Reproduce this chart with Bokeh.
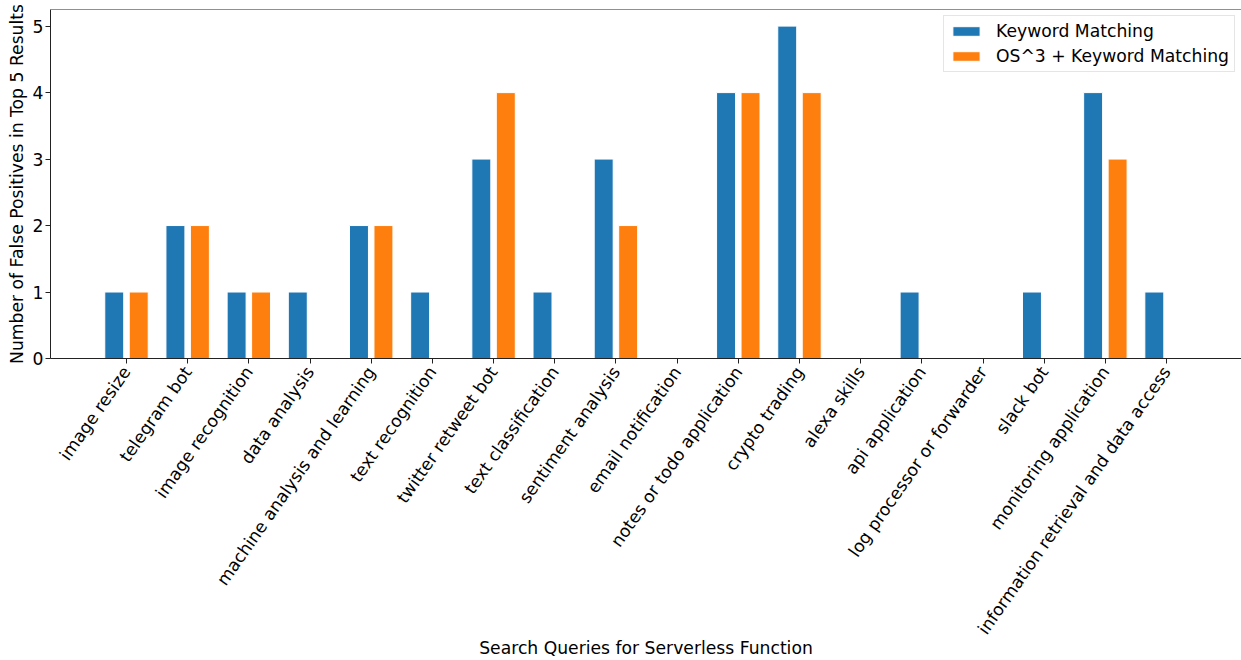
import math
from bokeh.plotting import figure
from bokeh.models import ColumnDataSource, FixedTicker, Range1d, Span, Legend, LegendItem
from bokeh.embed import file_html
from bokeh.resources import INLINE

categories = ["image resize", "telegram bot", "image recognition", "data analysis",
              "machine analysis and learning", "text recognition", "twitter retweet bot",
              "text classification", "sentiment analysis", "email notification",
              "notes or todo application", "crypto trading", "alexa skills",
              "api application", "log processor or forwarder", "slack bot",
              "monitoring application", "information retrieval and data access"]
keyword_matching = [1, 2, 1, 1, 2, 1, 3, 1, 3, 0, 4, 5, 0, 1, 0, 1, 4, 1]
os3_keyword_matching = [1, 2, 1, 0, 2, 0, 4, 0, 2, 0, 4, 4, 0, 0, 0, 0, 3, 0]
series_names = ["Keyword Matching", "OS^3 + Keyword Matching"]
y_ticks = [0, 1, 2, 3, 4, 5]
x_title = "Search Queries for Serverless Function"
y_title = "Number of False Positives in Top 5 Results"

FONT = "DejaVu Sans"
FS = "17.2px"
BLUE = "#1f77b4"
ORANGE = "#ff7f0e"

idx = list(range(len(categories)))
src = ColumnDataSource(dict(
    x_kw=[i - 0.2 for i in idx],
    x_os=[i + 0.2 for i in idx],
    kw=keyword_matching,
    os=os3_keyword_matching,
))

p = figure(width=1241, height=660, output_backend="svg", toolbar_location=None,
           x_range=Range1d(-1.242, 18.225), y_range=Range1d(0, 5.25),
           min_border_left=50, min_border_right=0, min_border_top=9,
           min_border_bottom=302)

r1 = p.vbar(x="x_kw", top="kw", width=0.31, source=src, fill_color=BLUE,
            line_color="white", line_width=1)
r2 = p.vbar(x="x_os", top="os", width=0.31, source=src, fill_color=ORANGE,
            line_color="white", line_width=1)

p.outline_line_color = None
p.grid.visible = False
p.add_layout(Span(location=5.25, dimension="width", line_color="#222222", line_width=1))

xa = p.xaxis[0]
xa.ticker = FixedTicker(ticks=idx)
xa.major_label_overrides = {i: c for i, c in enumerate(categories)}
xa.major_label_orientation = math.radians(55)
xa.axis_label = x_title
ya = p.yaxis[0]
ya.ticker = FixedTicker(ticks=y_ticks)
ya.axis_label = y_title

for ax in (xa, ya):
    ax.major_label_text_font = FONT
    ax.major_label_text_font_size = FS
    ax.major_label_text_color = "black"
    ax.axis_label_text_font = FONT
    ax.axis_label_text_font_size = FS
    ax.axis_label_text_font_style = "normal"
    ax.axis_label_text_color = "black"
    ax.axis_line_color = "#222222"
    ax.major_tick_line_color = "#222222"
    ax.major_tick_out = 5
    ax.major_tick_in = 0
    ax.minor_tick_line_color = None
    ax.major_label_standoff = 2
xa.major_label_standoff = 5
xa.axis_label_standoff = -9
ya.axis_label_standoff = 3

legend = Legend(items=[LegendItem(label=series_names[0], renderers=[r1]),
                       LegendItem(label=series_names[1], renderers=[r2])],
                location="top_right", margin=6, padding=5, spacing=5,
                glyph_width=34, glyph_height=12, label_standoff=13,
                label_height=20, label_text_font=FONT, label_text_font_size=FS,
                label_text_color="black", border_line_color="#cccccc",
                background_fill_alpha=0.8)
p.add_layout(legend)

open("out.html", "w").write(file_html(p, INLINE))
